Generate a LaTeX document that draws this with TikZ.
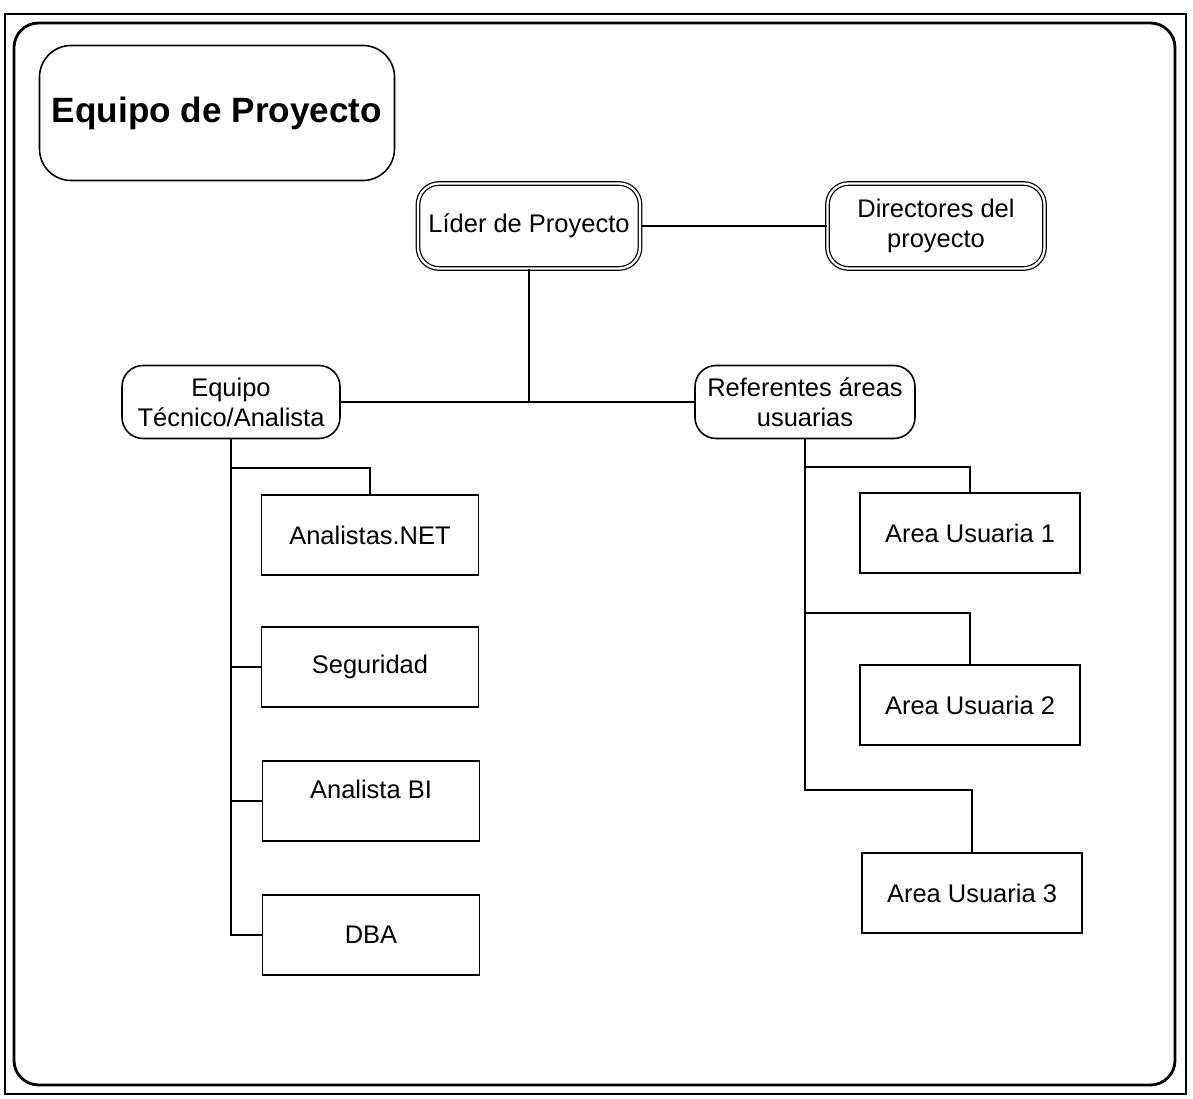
\documentclass[tikz,border=0pt]{standalone}
\usepackage{fontspec}
\setmainfont{Liberation Sans}
\usetikzlibrary{calc}

\begin{document}
\begin{tikzpicture}[-,thick,font=\fontsize{14.5}{17}\selectfont,
  head node/.style={draw,double,double distance=1.3pt,line width=0.7pt,rounded corners=12pt,minimum width=4.44cm,minimum height=1.7cm,align=center},
  group node/.style={draw,line width=0.9pt,rounded corners=12pt,minimum width=4.4cm,minimum height=1.46cm,align=center},
  leaf node/.style={draw,line width=0.9pt,minimum width=4.34cm,minimum height=1.6cm,align=center}]
\tikzstyle{link} = [draw,line width=0.9pt,-]

\useasboundingbox (0,0) rectangle (23.86,-21.98);

% frame
\draw[line width=0.6pt] (0.1,-0.28) rectangle (23.72,-21.88);
\draw[line width=1.6pt,rounded corners=14pt] (0.28,-0.46) rectangle (23.5,-21.7);

\node[draw,line width=0.9pt,rounded corners=18pt,minimum width=7.1cm,minimum height=2.7cm] (title) at (4.34,-2.26) {\fontsize{20}{24}\selectfont\bfseries Equipo de Proyecto};

\node[head node] (lider) at (10.58,-4.52) {Líder de Proyecto};
\node[head node,minimum width=4.34cm] (dir) at (18.72,-4.52) {Directores del\\proyecto};

\node[group node,minimum width=4.36cm] (tec) at (4.62,-8.04) {Equipo\\Técnico/Analista};
\node[group node] (ref) at (16.1,-8.04) {Referentes áreas\\usuarias};

\node[leaf node] (net) at (7.4,-10.7) {Analistas.NET};
\node[leaf node] (seg) at (7.4,-13.34) {Seguridad};
\node[leaf node] (bi) at (7.42,-16.02) {};
\node (bitext) at (7.42,-15.78) {Analista BI};
\node[leaf node] (dba) at (7.42,-18.7) {DBA};

\node[leaf node,minimum width=4.4cm] (a1) at (19.4,-10.66) {Area Usuaria 1};
\node[leaf node,minimum width=4.4cm] (a2) at (19.4,-14.1) {Area Usuaria 2};
\node[leaf node,minimum width=4.4cm] (a3) at (19.44,-17.86) {Area Usuaria 3};

\coordinate (netjoin) at (7.4,-9.36);
\coordinate (a1join) at (19.4,-9.34);
\coordinate (a2join) at (19.4,-12.26);
\coordinate (a3join) at (19.44,-15.8);

% top level
\path[link] (lider) -- (dir);
\path[link] (lider.south) -- (lider.south |- tec.east);
\path[link] (tec.east) -- (ref.west);

% left branch
\path[link] (tec.south) |- (netjoin) -- (net.north);
\path[link] (tec.south) |- (seg.west);
\path[link] (tec.south) |- (bi.west);
\path[link] (tec.south) |- (dba.west);

% right branch
\path[link] (ref.south) |- (a1join) -- (a1.north);
\path[link] (ref.south) |- (a2join) -- (a2.north);
\path[link] (ref.south) |- (a3join) -- (a3.north);

\end{tikzpicture}
\end{document}
